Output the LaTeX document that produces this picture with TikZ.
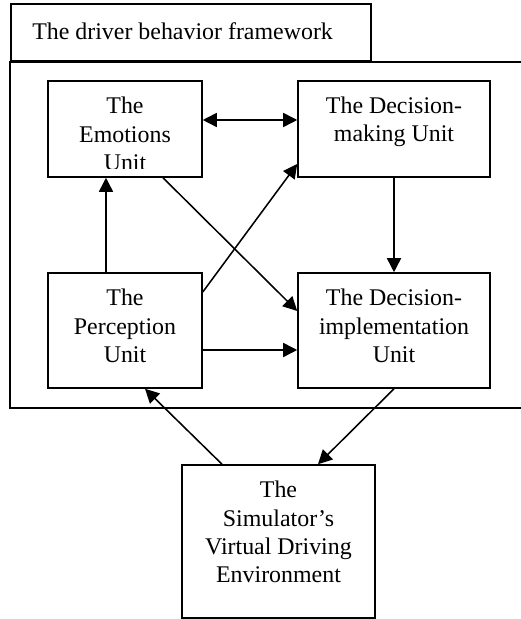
\documentclass[tikz,border=0pt]{standalone}
\usepackage{fontspec}
\setmainfont{Liberation Serif}
\usetikzlibrary{arrows.meta,positioning}

\tikzset{
    unitbox/.style={draw, line width=1.1pt, inner sep=0pt},
    unittext/.style={anchor=north, align=center, inner sep=0pt, font=\fontsize{17}{20}\selectfont},
    flow/.style={line width=1.1pt, >={Triangle[length=10pt,width=10pt]}},
}

\begin{document}
\begin{tikzpicture}
        \useasboundingbox (0,0) rectangle (13.025,15.475);
        % Framework tab and frame
        \node[unitbox, anchor=south west, minimum width=9cm, minimum height=1.425cm] (tab) at (0.25,13.925) {};
        \node[unittext, anchor=base west] (tabtxt) at (0.8,14.475) {The driver behavior framework};
        \draw[line width=1.1pt] (13.2,13.925) -- (0.25,13.925) -- (0.25,5.275) -- (13.2,5.275);
        % Units
        \node[unitbox, minimum width=3.85cm, minimum height=2.4cm] (emo) at (3.125,12.25) {};
        \node[unitbox, minimum width=4.8cm, minimum height=2.4cm] (dm) at (9.85,12.25) {};
        \node[unitbox, minimum width=3.85cm, minimum height=2.875cm] (per) at (3.125,7.2125) {};
        \node[unitbox, minimum width=4.8cm, minimum height=2.875cm] (di) at (9.85,7.2125) {};
        \node[unitbox, minimum width=4.825cm, minimum height=3.825cm] (sim) at (6.9625,1.9375) {};
        % Unit texts
        \begin{scope}
            \clip ([yshift=0.225cm]emo.south west) rectangle (emo.north east);
            \node[unittext] (emotxt) at ([yshift=-0.42cm]emo.north) {The\\Emotions\\Unit};
        \end{scope}
        \node[unittext] (dmtxt) at ([yshift=-0.42cm]dm.north) {The Decision-\\making Unit};
        \node[unittext] (pertxt) at ([yshift=-0.42cm]per.north) {The\\Perception\\Unit};
        \node[unittext] (ditxt) at ([yshift=-0.42cm]di.north) {The Decision-\\implementation\\Unit};
        \node[unittext] (simtxt) at ([yshift=-0.42cm]sim.north) {The\\Simulator’s\\Virtual Driving\\Environment};
        % Arrows
        \draw[flow,<->] ([yshift=0.225cm]emo.east) -- ([yshift=0.225cm]dm.west);
        \draw[flow,->] ([xshift=-0.475cm]per.north) -- ([xshift=-0.475cm]emo.south);
        \draw[flow,->] ([xshift=0.95cm]emo.south) -- ([yshift=0.4875cm]di.west);
        \draw[flow,->] ([yshift=0.9625cm]per.east) -- ([yshift=-0.875cm]dm.west);
        \draw[flow,->] (dm.south) -- (di.north);
        \draw[flow,->] ([yshift=-0.4875cm]per.east) -- ([yshift=-0.4875cm]di.west);
        \draw[flow,->] ([xshift=-1.4125cm]sim.north) -- ([xshift=0.5cm]per.south);
        \draw[flow,->] (di.south) -- ([xshift=0.9875cm]sim.north);
\end{tikzpicture}
\end{document}
